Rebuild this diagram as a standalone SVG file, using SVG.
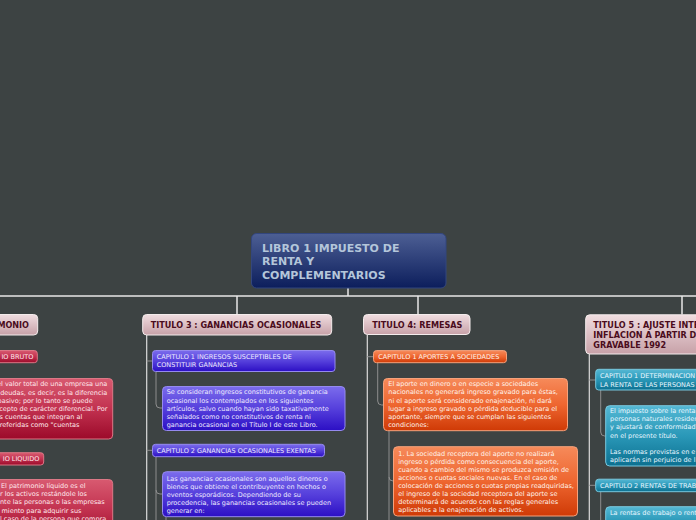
<svg xmlns="http://www.w3.org/2000/svg" width="696" height="520" viewBox="0 0 696 520">
<defs>
<linearGradient id="gRoot" x1="0" y1="0" x2="0" y2="1"><stop offset="0" stop-color="#4d5f94"/><stop offset="1" stop-color="#0c1e5c"/></linearGradient>
<linearGradient id="gTitle" x1="0" y1="0" x2="0" y2="1"><stop offset="0" stop-color="#f0dde0"/><stop offset="1" stop-color="#c7a1a8"/></linearGradient>
<linearGradient id="gPurple" x1="0" y1="0" x2="0" y2="1"><stop offset="0" stop-color="#7b6cec"/><stop offset="0.5" stop-color="#5640dc"/><stop offset="1" stop-color="#2c0fc4"/></linearGradient>
<linearGradient id="gOrange" x1="0" y1="0" x2="0" y2="1"><stop offset="0" stop-color="#f68a5a"/><stop offset="0.5" stop-color="#ee6630"/><stop offset="1" stop-color="#cf3a06"/></linearGradient>
<linearGradient id="gTeal" x1="0" y1="0" x2="0" y2="1"><stop offset="0" stop-color="#55b8d4"/><stop offset="0.5" stop-color="#2a98b8"/><stop offset="1" stop-color="#0c7090"/></linearGradient>
<linearGradient id="gRed" x1="0" y1="0" x2="0" y2="1"><stop offset="0" stop-color="#d85a70"/><stop offset="0.5" stop-color="#c23250"/><stop offset="1" stop-color="#9c0a2a"/></linearGradient>
</defs>
<style>
.root{fill:url(#gRoot);stroke:#33467e;stroke-width:1}
.title{fill:url(#gTitle);stroke:#f4ecec;stroke-width:1}
.pur{fill:url(#gPurple);stroke:#958aef;stroke-width:1}
.org{fill:url(#gOrange);stroke:#f5a27c;stroke-width:1}
.tea{fill:url(#gTeal);stroke:#79c8de;stroke-width:1}
.red{fill:url(#gRed);stroke:#dc7886;stroke-width:1}
.main{fill:none;stroke:#e8e8e8;stroke-width:1.5}
.trunk{fill:none;stroke:#dcdcdc;stroke-width:1.2}
.sub{fill:none;stroke:#8e8e8e;stroke-width:1}
.tr{font-family:"DejaVu Sans",Verdana,sans-serif;font-weight:bold;font-size:11px;fill:#b4c6da}
.tt{font-family:"DejaVu Sans",Verdana,sans-serif;font-weight:bold;font-size:8.1px;fill:#4a0c1c}
.s{font-family:"DejaVu Sans",Verdana,sans-serif;font-size:6.5px}
.wp{fill:#eeeaff}
.wo{fill:#fff3ea}
.wt{fill:#e8f7ff}
.wr{fill:#ffe8ec}
</style>
<rect width="696" height="520" fill="#3d4343"/>

<g id="connectors">
<path class="main" d="M348,288V296M0,296H696M237,296V314.5M418,296V314.5M682,296V314.5"/>
<path class="trunk" d="M146.7,335V520M367.3,334.5V520M589.3,354V520"/>
<path class="sub" d="M146.7,361H152.5M156,371.7V404Q156,408 160,408H162.5M146.7,450.3H152.5M156,456.7V520M156,490Q156,494 160,494H162.5M166,516.7V520"/>
<path class="sub" d="M367.3,356.7H373.5M377.7,362.7V401Q377.7,405 381.7,405H383.5M389,430.7V520M389,477Q389,481 393,481H393.5"/>
<path class="sub" d="M589.3,380H595.5M600.7,390V432Q600.7,436 604.7,436H605.5M589.3,485.3H595.5M600.7,491.7V520"/>
</g>

<g id="root">
<rect class="root" x="251.5" y="233.5" width="194.5" height="54.5" rx="5"/>
<text class="tr" x="262" y="251.5">LIBRO 1 IMPUESTO DE</text>
<text class="tr" x="262" y="265.3">RENTA Y</text>
<text class="tr" x="262" y="279">COMPLEMENTARIOS</text>
</g>

<g id="titulo2">
<rect class="title" x="-100" y="314.5" width="137.7" height="20.5" rx="4"/>
<text class="tt" x="29" y="327.5" text-anchor="end">MONIO</text>
</g>
<g id="t2-cap1">
<rect class="red" x="-100" y="350.5" width="137.3" height="12.2" rx="3"/>
<text class="s wr" x="33.3" y="358.8" text-anchor="end">IO BRUTO</text>
</g>
<g id="t2-cap1-desc">
<rect class="red" x="-100" y="378.5" width="212.7" height="60.5" rx="4"/>
<text class="s wr" text-anchor="end"><tspan x="107.3" y="386.3">el valor total de una empresa una</tspan><tspan x="107.3" y="394.5">deudas, es decir, es la diferencia</tspan><tspan x="92.7" y="402.7">pasivo; por lo tanto se puede</tspan><tspan x="107.3" y="410.9">cepto de carácter diferencial. Por</tspan><tspan x="82.3" y="419.1">s cuentas que integran al</tspan><tspan x="79.3" y="427.3">referidas como "cuentas</tspan></text>
</g>
<g id="t2-cap2">
<rect class="red" x="-100" y="452.7" width="143.7" height="12.3" rx="3"/>
<text class="s wr" x="39.3" y="461.2" text-anchor="end">IO LIQUIDO</text>
</g>
<g id="t2-cap2-desc">
<rect class="red" x="-100" y="479.5" width="212.7" height="60" rx="4"/>
<text class="s wr"><tspan x="1" y="487.9">El patrimonio líquido es el</tspan><tspan x="0" y="496.1">r los activos restándole los</tspan><tspan x="0" y="504.3">nte las personas o las empresas</tspan><tspan x="1.5" y="512.5">miento para adquirir sus</tspan><tspan x="0" y="520.7">l caso de la persona que compra</tspan></text>
</g>

<g id="titulo3">
<rect class="title" x="142.7" y="314.5" width="189" height="20.5" rx="4"/>
<text class="tt" x="150.7" y="327.5">TITULO 3 : GANANCIAS OCASIONALES</text>
</g>
<g id="t3-cap1">
<rect class="pur" x="152.5" y="350.5" width="182.5" height="21" rx="3"/>
<text class="s wp"><tspan x="156.7" y="358.6">CAPITULO 1 INGRESOS SUSCEPTIBLES DE</tspan><tspan x="156.7" y="366.9">CONSTITUIR GANANCIAS</tspan></text>
</g>
<g id="t3-cap1-desc">
<rect class="pur" x="162.5" y="386.5" width="182.5" height="44" rx="4"/>
<text class="s wp"><tspan x="166.7" y="394.4">Se consideran ingresos constitutivos de ganancia</tspan><tspan x="166.7" y="402.5">ocasional los contemplados en los siguientes</tspan><tspan x="166.7" y="410.6">artículos, salvo cuando hayan sido taxativamente</tspan><tspan x="166.7" y="418.7">señalados como no constitutivos de renta ni</tspan><tspan x="166.7" y="426.8">ganancia ocasional en el Título I de este Libro.</tspan></text>
</g>
<g id="t3-cap2">
<rect class="pur" x="152.5" y="444.3" width="172" height="12.4" rx="3"/>
<text class="s wp" x="156.7" y="452.8">CAPITULO 2 GANANCIAS OCASIONALES EXENTAS</text>
</g>
<g id="t3-cap2-desc">
<rect class="pur" x="162.5" y="471.7" width="182.5" height="45" rx="4"/>
<text class="s wp"><tspan x="166.7" y="480.5">Las ganancias ocasionales son aquellos dineros o</tspan><tspan x="166.7" y="488.6">bienes que obtiene el contribuyente en hechos o</tspan><tspan x="166.7" y="496.7">eventos esporádicos. Dependiendo de su</tspan><tspan x="166.7" y="504.8">procedencia, las ganancias ocasionales se pueden</tspan><tspan x="166.7" y="512.9">generar en:</tspan></text>
</g>

<g id="titulo4">
<rect class="title" x="363.5" y="314.5" width="106.5" height="20" rx="4"/>
<text class="tt" x="372.3" y="327.5">TITULO 4: REMESAS</text>
</g>
<g id="t4-cap1">
<rect class="org" x="373.5" y="350.6" width="133" height="12.1" rx="3"/>
<text class="s wo" x="378.3" y="359">CAPITULO 1 APORTES A SOCIEDADES</text>
</g>
<g id="t4-cap1-desc">
<rect class="org" x="383.5" y="378.5" width="184" height="52.2" rx="4"/>
<text class="s wo"><tspan x="388.3" y="386.3">El aporte en dinero o en especie a sociedades</tspan><tspan x="388.3" y="394.4">nacionales no generará ingreso gravado para éstas,</tspan><tspan x="388.3" y="402.5">ni el aporte será considerado enajenación, ni dará</tspan><tspan x="388.3" y="410.7">lugar a ingreso gravado o pérdida deducible para el</tspan><tspan x="388.3" y="418.8">aportante, siempre que se cumplan las siguientes</tspan><tspan x="388.3" y="426.9">condiciones:</tspan></text>
</g>
<g id="t4-cap1-cond1">
<rect class="org" x="393.5" y="446.7" width="184" height="69.3" rx="4"/>
<text class="s wo"><tspan x="398.3" y="456.2">1. La sociedad receptora del aporte no realizará</tspan><tspan x="398.3" y="464.2">ingreso o pérdida como consecuencia del aporte,</tspan><tspan x="398.3" y="472.2">cuando a cambio del mismo se produzca emisión de</tspan><tspan x="398.3" y="480.2">acciones o cuotas sociales nuevas. En el caso de</tspan><tspan x="398.3" y="488.2">colocación de acciones o cuotas propias readquiridas,</tspan><tspan x="398.3" y="496.2">el ingreso de la sociedad receptora del aporte se</tspan><tspan x="398.3" y="504.2">determinará de acuerdo con las reglas generales</tspan><tspan x="398.3" y="512.2">aplicables a la enajenación de activos.</tspan></text>
</g>

<g id="titulo5">
<rect class="title" x="585.7" y="314.8" width="130" height="39.2" rx="4"/>
<text class="tt"><tspan x="593.3" y="328.3">TITULO 5 : AJUSTE INTEGRAL POR</tspan><tspan x="593.3" y="337.9">INFLACION A PARTIR DEL AÑO</tspan><tspan x="593.3" y="347.5">GRAVABLE 1992</tspan></text>
</g>
<g id="t5-cap1">
<rect class="tea" x="595.7" y="369.3" width="120" height="20.7" rx="3"/>
<text class="s wt"><tspan x="600" y="377.6">CAPITULO 1 DETERMINACION DE</tspan><tspan x="600" y="386.5">LA RENTA DE LAS PERSONAS</tspan></text>
</g>
<g id="t5-cap1-desc">
<rect class="tea" x="605.7" y="405.7" width="110" height="60.3" rx="4"/>
<text class="s wt"><tspan x="610" y="413">El impuesto sobre la renta</tspan><tspan x="610" y="421.2">personas naturales residen</tspan><tspan x="610" y="429.4">y ajustará de conformidad</tspan><tspan x="610" y="437.6">en el presente título.</tspan><tspan x="610" y="453.9">Las normas previstas en e</tspan><tspan x="610" y="462.1">aplicarán sin perjuicio de l</tspan></text>
</g>
<g id="t5-cap2">
<rect class="tea" x="595.7" y="479.2" width="120" height="12.5" rx="3"/>
<text class="s wt" x="600" y="487.8">CAPITULO 2 RENTAS DE TRABAJO</text>
</g>
<g id="t5-cap2-desc">
<rect class="tea" x="605.7" y="506.7" width="110" height="30" rx="4"/>
<text class="s wt" x="610" y="515.2">La rentas de trabajo o rent</text>
</g>
</svg>
